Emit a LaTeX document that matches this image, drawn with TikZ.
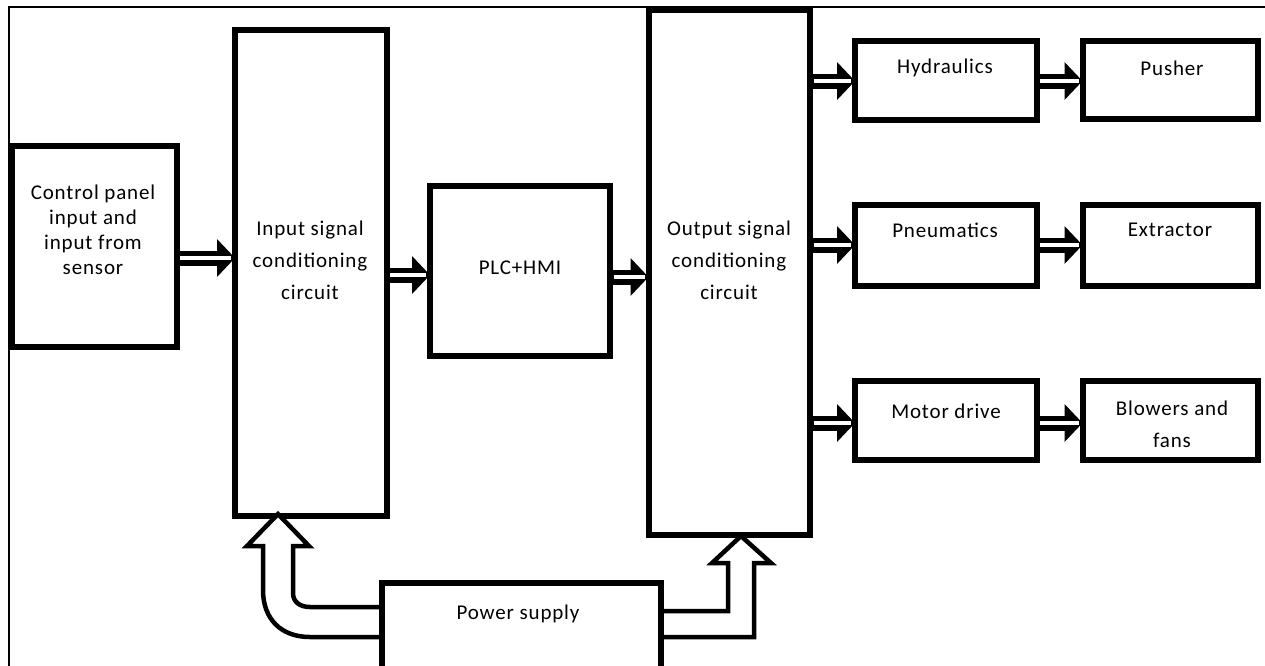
\documentclass[tikz,border=0pt]{standalone}
\usepackage{fontspec}
\setmainfont[LetterSpace=4]{Carlito}
\newcommand\bx[5]{\node[box, minimum width={(#4-#2)*1pt}, minimum height={(#5-#3)*1pt}] (#1) at ({(#2+#4)/2},{(#3+#5)/2}) {};}
\newcommand\dblarrow[2]{%
  \draw[line width=15pt, shorten >=10pt] (#1) -- (#2);
  \fill (#2) -- ++(-18,-19) -- ++(0,38) -- cycle;
  \draw[white, line width=4pt, shorten <=3.5pt, shorten >=4pt] (#1) -- (#2);
}
\begin{document}
\begin{tikzpicture}[x=1pt,y=-1pt,
  box/.style={draw, line width=6pt, fill=white, outer sep=0pt, inner sep=0pt},
  txt/.style={align=center, font=\fontsize{21}{25}\selectfont, inner sep=0pt},
  txtb/.style={align=center, font=\fontsize{21}{32}\selectfont, inner sep=0pt},
  blockarrow/.style={draw, line width=4.5pt, fill=white, line join=miter}]
\useasboundingbox (0,0) rectangle (1265,665);
\draw[line width=1.5pt] (9,700) -- (9,7) -- (1300,7);
% boxes
\bx{cp}{11.5}{145.5}{176.5}{346.5}
\bx{isc}{235}{30}{386.5}{515.5}
\bx{plc}{430}{186}{610}{356}
\bx{osc}{648.5}{10}{810}{534.5}
\bx{hyd}{855}{41}{1036.5}{119.5}
\bx{push}{1082.5}{41}{1258}{118.5}
\bx{pneu}{855}{205}{1036.5}{286}
\bx{extr}{1082.5}{205}{1258}{286}
\bx{mot}{855}{380.5}{1036.5}{460}
\bx{blow}{1082.5}{380.5}{1258}{460}
\bx{ps}{382}{583}{661}{700}
% texts
\node[txt] (cpt) at (93,230) {Control panel\\input and\\input from\\sensor};
\node[txtb] (isct) at (310,260) {Input signal\\conditioning\\circuit};
\node[txtb] (osct) at (729,260) {Output signal\\conditioning\\circuit};
\node[txt] (plct) at (520,268) {PLC+HMI};
\node[txt] (hydt) at (945,68) {Hydraulics};
\node[txt] (pusht) at (1172,68) {Pusher};
\node[txt] (pneut) at (945,230) {Pneumatics};
\node[txt] (extrt) at (1170,230) {Extractor};
\node[txt] (mott) at (946,411) {Motor drive};
\node[txtb] (blowt) at (1172,424) {Blowers and\\fans};
\node[txt] (pst) at (518,614) {Power supply};
% arrow levels
\coordinate (l1) at (0,258);
\coordinate (l2) at (0,275);
\coordinate (l3) at (0,277);
\coordinate (l4) at (0,81);
\coordinate (l5) at (0,245);
\coordinate (l6) at (0,423);
\dblarrow{cp.east |- l1}{isc.west |- l1}
\dblarrow{isc.east |- l2}{plc.west |- l2}
\dblarrow{plc.east |- l3}{osc.west |- l3}
\dblarrow{osc.east |- l4}{hyd.west |- l4}
\dblarrow{hyd.east |- l4}{push.west |- l4}
\dblarrow{osc.east |- l5}{pneu.west |- l5}
\dblarrow{pneu.east |- l5}{extr.west |- l5}
\dblarrow{osc.east |- l6}{mot.west |- l6}
\dblarrow{mot.east |- l6}{blow.west |- l6}
% power supply block arrows
\draw[blockarrow] (382,637) -- (310,637) .. controls (281,637) and (263,619) .. (263,590)
  -- (263,546) -- (247,546) -- (278,514) -- (309,546) -- (293,546) -- (293,593)
  .. controls (293,602) and (300,607) .. (310,607) -- (382,607);
\draw[blockarrow] (661,637) -- (754,637) -- (754,563) -- (771,563) -- (741,536)
  -- (712,563) -- (728,563) -- (728,611) -- (661,611);
\draw[line width=6pt] (ps.north west) -- (ps.south west);
\draw[line width=6pt] (ps.north east) -- (ps.south east);
\end{tikzpicture}
\end{document}
